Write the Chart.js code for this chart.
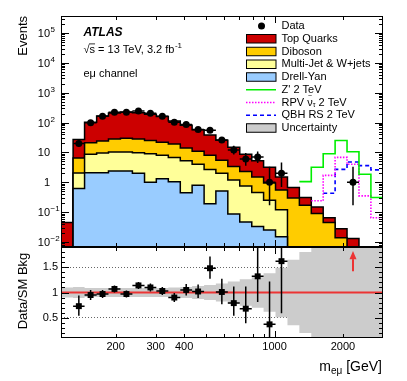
<!DOCTYPE html>
<html>
<head>
<meta charset="utf-8">
<script src="https://cdn.jsdelivr.net/npm/chart.js@4.4.1/dist/chart.umd.min.js"></script>
<style>
  body { margin: 0; background: #fff; }
  #wrap { position: relative; width: 407px; height: 381px; }
  canvas { position: absolute; left: 0; top: 0; }
</style>
</head>
<body>
<div id="wrap">
  <canvas id="main" width="407" height="381"></canvas>
  <canvas id="ratio" width="407" height="381"></canvas>
</div>
<script>
// m_emu bin edges [GeV]
var binEdges = [115, 130, 146, 165, 186, 210, 237, 268, 302, 341, 385, 434, 490, 552, 623, 703, 794, 895, 1010, 1140, 1286, 1451, 1637, 1847, 2084, 2352, 2654, 3000];

// background components, events per bin
var topQuarks = [0.045, 20.5, 81, 141, 180, 196, 187, 163, 136, 94, 68, 46, 30, 20, 11.6, 6.3, 3.8, 2.25, 0.95, 0.37, 0.14, 0.06, 0.02, 0.014, 0.013, 0, 0];
var diboson   = [0, 4.45, 12.4, 14.4, 17.7, 19.7, 18.2, 16, 14, 12.2, 8.7, 7, 5.3, 3.5, 2.2, 1.55, 1.05, 0.7, 0.43, 0.3, 0.17, 0.09, 0.045, 0.014, 0, 0, 0];
var multiJet  = [0, 1.43, 6.5, 7.5, 7.9, 7.9, 7.8, 8.0, 6.7, 5.75, 4.85, 3.21, 2.51, 1.49, 1.11, 0.7, 0.42, 0.225, 0.105, 0, 0, 0, 0, 0, 0, 0, 0];
var drellYan  = [0, 0.62, 2.1, 2.1, 2.4, 2.4, 2.0, 1.0, 1.3, 1.05, 0.45, 0.79, 0.19, 0.51, 0.086, 0.047, 0.033, 0.025, 0.015, 0, 0, 0, 0, 0, 0, 0, 0];

// signals (drawn on top of background)
var zPrime = [null, null, null, null, null, null, null, null, null, null, null, null, null, null, null, null, null, null, null, null, 1.05, 3.2, 9, 25, 10.5, 1.85, 0.31];
var rpvSneutrino = [null, null, null, null, null, null, null, null, null, null, null, null, null, null, null, null, null, null, null, null, null, 0.24, 1.7, 6.8, 4.0, 0.35, 0.065];
var qbhRS = [null, null, null, null, null, null, null, null, null, null, null, null, null, null, null, null, null, null, null, null, null, null, 0.43, 2.7, 4.8, 3.6, 2.6];

// data
var dataEvents = [null, 20, 98, 162, 220, 220, 245, 204, 162, 102, 86, 58, 55, 26, 12, 6, 7, 1, 2, null, null, null, null, null, 1, null, null];
var dataErrUp   = [0, 5.5, 10.4, 13.2, 15.3, 15.3, 16.2, 15.3, 13.2, 11.1, 10.3, 8.7, 8.5, 6.2, 4.6, 3.6, 3.8, 2.3, 2.6, 0, 0, 0, 0, 0, 2.3, 0, 0];
var dataErrDown = [0, 4.4, 9.4, 12.2, 14.3, 14.3, 15.2, 14.3, 12.2, 10.1, 9.3, 7.6, 7.4, 5.1, 3.5, 2.4, 2.6, 0.83, 1.3, 0, 0, 0, 0, 0, 0.83, 0, 0];

// ratio panel
var ratio = [null, 0.73, 0.95, 0.97, 1.07, 0.97, 1.14, 1.10, 1.03, 0.90, 1.05, 1.02, 1.48, 1.01, 0.79, 0.68, 1.32, 0.37, 1.62, null, null, null, null, null, 77, null, null];
var ratioErrUp   = [0, 0.21, 0.1, 0.08, 0.07, 0.07, 0.07, 0.08, 0.08, 0.09, 0.12, 0.14, 0.23, 0.26, 0.33, 0.44, 0.59, 0.85, 1.7, 0, 0, 0, 0, 0, 0, 0, 0];
var ratioErrDown = [0, 0.19, 0.1, 0.08, 0.07, 0.07, 0.07, 0.08, 0.08, 0.09, 0.11, 0.13, 0.21, 0.24, 0.25, 0.29, 0.51, 0.31, 1.03, 0, 0, 0, 0, 0, 0, 0, 0];
var bkgUncert = [0.1, 0.11, 0.09, 0.09, 0.09, 0.09, 0.09, 0.09, 0.09, 0.1, 0.11, 0.13, 0.15, 0.18, 0.22, 0.26, 0.3, 0.38, 0.49, 0.65, 0.8, 0.88, 1, 1, 1, 1, 1];

var xLabelValues = [200, 300, 400, 1000, 2000];

var FONT = '"Liberation Sans", Arial, Helvetica, sans-serif';
var colTop = 'rgb(204,0,0)', colDib = 'rgb(255,204,0)', colMJ = 'rgb(255,255,153)', colDY = 'rgb(153,204,255)';
var colUnc = 'rgb(204,204,204)', colRed = 'rgb(236,52,52)';

var binCenters = binEdges.slice(0, -1).map(function (e, i) { return Math.sqrt(e * binEdges[i + 1]); });

function stepPoints(vals) {
    var pts = [];
    for (var i = 0; i < vals.length; i++) pts.push({ x: binEdges[i], y: vals[i] });
    pts.push({ x: binEdges[vals.length], y: vals[vals.length - 1] });
    return pts;
}
function logSafe(v) { return v > 0 ? v : 1e-4; }

var cumDY = drellYan.slice();
var cumMJ = multiJet.map(function (v, i) { return v + cumDY[i]; });
var cumDib = diboson.map(function (v, i) { return v + cumMJ[i]; });
var cumTop = topQuarks.map(function (v, i) { return v + cumDib[i]; });

function stackSet(vals, color, order) {
    return {
        data: stepPoints(vals.map(logSafe)), stepped: true, fill: 'start',
        backgroundColor: color, borderColor: '#000', borderWidth: 1.5,
        pointRadius: 0, order: order
    };
}
function signalSet(vals, color, dash, order) {
    return {
        data: stepPoints(vals), stepped: true, fill: false,
        borderColor: color, borderWidth: 1.6, borderDash: dash,
        pointRadius: 0, order: order
    };
}

// x ticks every hundred / thousand
var xTickList = [];
[200, 300, 400, 500, 600, 700, 800, 900, 1000, 2000].forEach(function (v) {
    xTickList.push({ v: v, len: v === 1000 ? 7 : 4 });
});

function drawFrame(chart, yTicks) {
    var ctx = chart.ctx, a = chart.chartArea, xs = chart.scales.x, ys = chart.scales.y;
    ctx.save();
    ctx.strokeStyle = '#000';
    ctx.lineWidth = 1;
    ctx.strokeRect(a.left + 0.5, a.top + 0.5, a.right - a.left - 1, a.bottom - a.top - 1);
    ctx.beginPath();
    xTickList.forEach(function (t) {
        var x = Math.round(xs.getPixelForValue(t.v)) + 0.5;
        ctx.moveTo(x, a.bottom); ctx.lineTo(x, a.bottom - t.len);
        ctx.moveTo(x, a.top); ctx.lineTo(x, a.top + t.len);
    });
    yTicks.forEach(function (t) {
        if (t.v < ys.min || t.v > ys.max) return;
        var y = Math.round(ys.getPixelForValue(t.v)) + 0.5;
        ctx.moveTo(a.left, y); ctx.lineTo(a.left + t.len, y);
        ctx.moveTo(a.right, y); ctx.lineTo(a.right - t.len, y);
    });
    ctx.stroke();
    ctx.restore();
}

var errorBars = {
    id: 'errorBars',
    afterDatasetsDraw: function (chart) {
        var ctx = chart.ctx, a = chart.chartArea, xs = chart.scales.x, ys = chart.scales.y;
        ctx.save();
        ctx.beginPath();
        ctx.rect(a.left, a.top, a.right - a.left, a.bottom - a.top);
        ctx.clip();
        ctx.strokeStyle = '#000';
        ctx.lineWidth = 1.5;
        chart.data.datasets.forEach(function (ds) {
            if (!ds.errUp) return;
            ctx.beginPath();
            ds.data.forEach(function (p, i) {
                if (p.y == null || p.y > ys.max) return;
                var x = xs.getPixelForValue(p.x), y = ys.getPixelForValue(p.y);
                var lo = p.y - ds.errDown[i];
                if (lo <= 0) lo = 1e-6;
                ctx.moveTo(xs.getPixelForValue(binEdges[i]), y);
                ctx.lineTo(xs.getPixelForValue(binEdges[i + 1]), y);
                ctx.moveTo(x, ys.getPixelForValue(p.y + ds.errUp[i]));
                ctx.lineTo(x, ys.getPixelForValue(lo));
            });
            ctx.stroke();
        });
        ctx.restore();
    }
};

var mainDecor = {
    id: 'mainDecor',
    afterDraw: function (chart) {
        var ctx = chart.ctx, ys = chart.scales.y;
        var yTicks = [];
        for (var d = -3; d <= 5; d++) {
            for (var k = 1; k <= 9; k++) yTicks.push({ v: k * Math.pow(10, d), len: k === 1 ? 8 : 4 });
        }
        drawFrame(chart, yTicks);

        ctx.save();
        ctx.fillStyle = '#000';
        // y tick labels 10^n
        for (var e = -2; e <= 5; e++) {
            var y = ys.getPixelForValue(Math.pow(10, e)) + 1;
            ctx.textBaseline = 'middle';
            ctx.font = '11px ' + FONT;
            if (e === 0) { ctx.textAlign = 'right'; ctx.fillText('1', 50, y); continue; }
            ctx.textAlign = 'right';
            ctx.fillText('10', 50, y);
            if (e === 1) continue;
            ctx.textAlign = 'left';
            ctx.font = '8px ' + FONT;
            ctx.fillText(e < 0 ? '\u2212' + (-e) : String(e), 50.5, y - 4);
        }

        // y axis title
        ctx.save();
        ctx.translate(27, 16);
        ctx.rotate(-Math.PI / 2);
        ctx.textAlign = 'right';
        ctx.textBaseline = 'alphabetic';
        ctx.font = '13px ' + FONT;
        ctx.fillText('Events', 0, 0);
        ctx.restore();

        // ATLAS labels
        ctx.textAlign = 'left';
        ctx.textBaseline = 'alphabetic';
        ctx.font = 'italic bold 12px ' + FONT;
        ctx.fillText('ATLAS', 83.5, 36);
        ctx.font = '11px ' + FONT;
        var s1 = '\u221As = 13 TeV, 3.2 fb';
        ctx.fillText(s1, 83.5, 52.5);
        var wRoot = ctx.measureText('\u221A').width, wS = ctx.measureText('\u221As').width;
        ctx.fillRect(83.5 + wRoot - 0.5, 43.5, wS - wRoot + 0.5, 0.8);
        var w1 = ctx.measureText(s1).width;
        ctx.font = '8px ' + FONT;
        ctx.fillText('-1', 83.5 + w1 + 0.5, 47.5);
        ctx.font = '11px ' + FONT;
        ctx.fillText('e\u03BC channel', 83.5, 76.5);

        // legend
        var entries = [
            { kind: 'point', label: 'Data' },
            { kind: 'box', color: colTop, label: 'Top Quarks' },
            { kind: 'box', color: colDib, label: 'Diboson' },
            { kind: 'box', color: colMJ, label: 'Multi-Jet & W+jets' },
            { kind: 'box', color: colDY, label: 'Drell-Yan' },
            { kind: 'line', color: '#00ee00', dash: [], label: "Z' 2 TeV" },
            { kind: 'line', color: '#ff00ff', dash: [1.5, 1.5], label: 'RPV' },
            { kind: 'line', color: '#0000ff', dash: [4, 3], label: 'QBH RS 2 TeV' },
            { kind: 'box', color: colUnc, label: 'Uncertainty' }
        ];
        entries.forEach(function (en, i) {
            var yc = 26 + i * 12.75;
            if (en.kind === 'point') {
                ctx.beginPath();
                ctx.arc(261.5, yc, 3.5, 0, Math.PI * 2);
                ctx.fillStyle = '#000';
                ctx.fill();
            } else if (en.kind === 'box') {
                ctx.fillStyle = en.color;
                ctx.fillRect(246.5, yc - 4.25, 29.5, 8.5);
                ctx.strokeStyle = '#000';
                ctx.lineWidth = 1;
                ctx.strokeRect(246.5, yc - 4.25, 29.5, 8.5);
            } else {
                ctx.save();
                ctx.strokeStyle = en.color;
                ctx.lineWidth = 1.5;
                ctx.setLineDash(en.dash);
                ctx.beginPath();
                ctx.moveTo(246, yc);
                ctx.lineTo(276, yc);
                ctx.stroke();
                ctx.restore();
            }
            ctx.fillStyle = '#000';
            ctx.font = '11px ' + FONT;
            ctx.textAlign = 'left';
            ctx.textBaseline = 'middle';
            if (en.label === 'RPV') {
                var x = 281.5;
                ctx.fillText('RPV ', x, yc);
                x += ctx.measureText('RPV ').width;
                ctx.fillText('\u03BD', x, yc);
                var wn = ctx.measureText('\u03BD').width;
                ctx.font = '7px ' + FONT;
                ctx.textAlign = 'center';
                ctx.fillText('~', x + wn / 2, yc - 6);
                ctx.textAlign = 'left';
                ctx.fillText('\u03C4', x + wn, yc + 3);
                x += wn + ctx.measureText('\u03C4').width;
                ctx.font = '11px ' + FONT;
                ctx.fillText(' 2 TeV', x, yc);
            } else {
                ctx.fillText(en.label, 281.5, yc);
            }
        });
        ctx.restore();
    }
};

var ratioDecor = {
    id: 'ratioDecor',
    afterDatasetsDraw: function (chart) {
        var ctx = chart.ctx, xs = chart.scales.x, ys = chart.scales.y;
        ctx.save();
        ctx.strokeStyle = colRed;
        ctx.fillStyle = colRed;
        ctx.lineWidth = 2;
        ratio.forEach(function (v, i) {
            if (v == null || v <= ys.max) return;
            var x = xs.getPixelForValue(binCenters[i]);
            ctx.beginPath();
            ctx.moveTo(x, ys.getPixelForValue(1.42));
            ctx.lineTo(x, ys.getPixelForValue(1.66));
            ctx.stroke();
            ctx.beginPath();
            ctx.moveTo(x, ys.getPixelForValue(1.82));
            ctx.lineTo(x - 3.5, ys.getPixelForValue(1.66));
            ctx.lineTo(x + 3.5, ys.getPixelForValue(1.66));
            ctx.closePath();
            ctx.fill();
        });
        ctx.restore();
    },
    afterDraw: function (chart) {
        var ctx = chart.ctx;
        var yTicks = [];
        for (var i = 2; i <= 18; i++) yTicks.push({ v: i / 10, len: i % 5 === 0 ? 8 : 4 });
        drawFrame(chart, yTicks);

        ctx.save();
        ctx.fillStyle = '#000';
        ctx.translate(26.5, 291);
        ctx.rotate(-Math.PI / 2);
        ctx.textAlign = 'center';
        ctx.textBaseline = 'alphabetic';
        ctx.font = '13px ' + FONT;
        ctx.fillText('Data/SM Bkg', 0, 0);
        ctx.restore();

        // x title m_emu [GeV], right aligned
        ctx.save();
        ctx.fillStyle = '#000';
        ctx.textAlign = 'left';
        ctx.textBaseline = 'alphabetic';
        ctx.font = '14px ' + FONT;
        var wm = ctx.measureText('m').width, wg = ctx.measureText(' [GeV]').width;
        ctx.font = '10px ' + FONT;
        var ws = ctx.measureText('e\u03BC').width;
        var x0 = 382 - wm - ws - wg;
        ctx.font = '14px ' + FONT;
        ctx.fillText('m', x0, 370.5);
        ctx.fillText(' [GeV]', x0 + wm + ws, 370.5);
        ctx.font = '10px ' + FONT;
        ctx.fillText('e\u03BC', x0 + wm, 374);
        ctx.restore();
    }
};

var common = {
    animation: false, responsive: false, devicePixelRatio: 1, events: [],
};

new Chart(document.getElementById('main'), {
    type: 'line',
    data: {
        datasets: [
            Object.assign({
                data: dataEvents.map(function (v, i) { return { x: binCenters[i], y: v }; }),
                showLine: false, pointStyle: 'circle', pointRadius: 3.5,
                backgroundColor: '#000', borderColor: '#000', borderWidth: 0, order: 0
            }, { errUp: dataErrUp, errDown: dataErrDown }),
            signalSet(zPrime, '#00ee00', [], 1),
            signalSet(rpvSneutrino, '#ff00ff', [1.5, 1.5], 2),
            signalSet(qbhRS, '#0000ff', [4, 3], 3),
            stackSet(cumDY, colDY, 4),
            stackSet(cumMJ, colMJ, 5),
            stackSet(cumDib, colDib, 6),
            stackSet(cumTop, colTop, 7)
        ]
    },
    options: Object.assign({}, common, {
        layout: { padding: { left: 0, top: 16, right: 24, bottom: 134 } },
        plugins: { legend: { display: false }, tooltip: { enabled: false } },
        scales: {
            x: { type: 'logarithmic', min: 115, max: 3000, display: false },
            y: {
                type: 'logarithmic', min: 0.0068, max: 3.7e5,
                afterFit: function (s) { s.width = 61; },
                ticks: { display: false },
                grid: { display: false, drawTicks: false },
                border: { display: false }
            }
        }
    }),
    plugins: [errorBars, mainDecor]
});

var bandUp = bkgUncert.map(function (u) { return 1 + u; });
var bandDown = bkgUncert.map(function (u) { return 1 - u; });

new Chart(document.getElementById('ratio'), {
    type: 'line',
    data: {
        datasets: [
            Object.assign({
                data: ratio.map(function (v, i) { return { x: binCenters[i], y: v }; }),
                showLine: false, pointStyle: 'rect', pointRadius: 4.2,
                backgroundColor: '#000', borderColor: '#000', borderWidth: 0, order: 0
            }, { errUp: ratioErrUp, errDown: ratioErrDown }),
            {
                data: [{ x: binEdges[0], y: 1 }, { x: binEdges[binEdges.length - 1], y: 1 }],
                borderColor: colRed, borderWidth: 2, pointRadius: 0, fill: false, order: 1
            },
            {
                data: stepPoints(bandUp), stepped: true, fill: '+1',
                backgroundColor: colUnc, borderColor: 'rgba(0,0,0,0)', borderWidth: 0,
                pointRadius: 0, order: 2
            },
            {
                data: stepPoints(bandDown), stepped: true, fill: false,
                borderColor: 'rgba(0,0,0,0)', borderWidth: 0, pointRadius: 0, order: 3
            }
        ]
    },
    options: Object.assign({}, common, {
        layout: { padding: { left: 0, top: 247, right: 24, bottom: 0 } },
        plugins: { legend: { display: false }, tooltip: { enabled: false } },
        scales: {
            x: {
                type: 'logarithmic', min: 115, max: 3000,
                afterBuildTicks: function (s) { s.ticks = xLabelValues.map(function (v) { return { value: v }; }); },
                afterFit: function (s) { s.height = 43; },
                ticks: {
                    autoSkip: false, maxRotation: 0, padding: 2, color: '#000',
                    font: { size: 11, family: FONT },
                    callback: function (v) { return String(v); }
                },
                grid: { display: false, drawTicks: false },
                border: { display: false }
            },
            y: {
                min: 0.1, max: 1.9,
                afterBuildTicks: function (s) { s.ticks = [0.5, 1, 1.5].map(function (v) { return { value: v }; }); },
                afterFit: function (s) { s.width = 61; },
                ticks: {
                    padding: 3, color: '#000', font: { size: 11, family: FONT },
                    callback: function (v) { return String(v); }
                },
                grid: {
                    drawTicks: false, lineWidth: 1,
                    color: function (c) { return c.tick && c.tick.value !== 1 ? '#666' : 'rgba(0,0,0,0)'; }
                },
                border: { display: false, dash: [1, 2] }
            }
        }
    }),
    plugins: [errorBars, ratioDecor]
});
</script>
</body>
</html>
